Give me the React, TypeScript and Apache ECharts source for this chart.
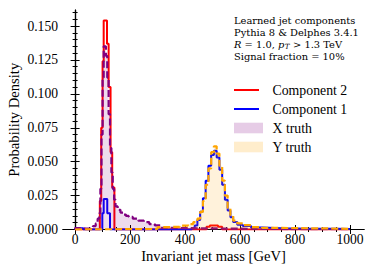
import React, { useEffect, useRef } from "react";
import * as echarts from "echarts";

// Histogram bins: [bin start mass (GeV), probability density]; last bin ends at massEnd
const massEnd = 1000;

const component2: [number, number][] = [
  [0, 0], [90, 0.021], [95, 0.075], [100, 0.124], [104, 0.154], [116, 0.137],
  [122, 0.105], [129, 0.057], [135, 0.031], [143, 0], [478, 0.002], [490, 0.003],
  [520, 0.002], [535, 0],
];

const component1: [number, number][] = [
  [0, 0.001], [30, 0], [99, 0.012], [104, 0.0225], [117, 0.012], [127, 0],
  [424, 0.001], [435, 0.003], [445, 0.007], [455, 0.013], [465, 0.023], [475, 0.036],
  [485, 0.047], [495, 0.055], [505, 0.058], [515, 0.053], [525, 0.044], [535, 0.033],
  [545, 0.022], [555, 0.014], [565, 0.009], [575, 0.0055], [590, 0.0035], [610, 0.0025],
  [640, 0.0015], [680, 0.001], [750, 0.0006], [850, 0.0005], [950, 0.0003],
];

const xTruth: [number, number][] = [
  [0, 0.001], [20, 0.0006], [40, 0.0008], [55, 0.0013], [65, 0.0025], [75, 0.0045],
  [82, 0.008], [88, 0.012], [92, 0.03], [96, 0.07], [100, 0.112], [104, 0.135],
  [112, 0.128], [117, 0.112], [122, 0.085], [127, 0.06], [132, 0.042], [137, 0.03],
  [142, 0.022], [147, 0.017], [155, 0.0145], [165, 0.0125], [175, 0.011], [185, 0.01],
  [195, 0.0093], [210, 0.008], [230, 0.0065], [250, 0.0054], [270, 0.004], [290, 0.003],
  [310, 0.0012], [350, 0.0009], [450, 0.0006], [600, 0.0003], [800, 0.0002],
];

const yTruth: [number, number][] = [
  [0, 0.0004], [300, 0.0018], [340, 0.002], [380, 0.0028], [410, 0.004], [430, 0.0055],
  [445, 0.008], [455, 0.013], [465, 0.021], [475, 0.033], [485, 0.045], [495, 0.057],
  [505, 0.0613], [515, 0.056], [525, 0.047], [535, 0.036], [545, 0.025], [555, 0.016],
  [565, 0.0105], [575, 0.0065], [590, 0.0045], [610, 0.0032], [640, 0.0018], [680, 0.0012],
  [750, 0.0009], [850, 0.0007], [950, 0.0005],
];

const xMajorTicks = [0, 200, 400, 600, 800, 1000];
const xMinorTicks = [0, 50, 100, 150, 200, 250, 300, 350, 400, 450, 500, 550, 600, 650, 700, 750, 800, 850, 900, 950, 1000];
const yMajorTicks = [0, 0.025, 0.05, 0.075, 0.1, 0.125, 0.15];
const yMinorTicks = [
  0, 0.005, 0.01, 0.015, 0.02, 0.025, 0.03, 0.035, 0.04, 0.045, 0.05, 0.055, 0.06, 0.065,
  0.07, 0.075, 0.08, 0.085, 0.09, 0.095, 0.1, 0.105, 0.11, 0.115, 0.12, 0.125, 0.13, 0.135,
  0.14, 0.145, 0.15, 0.155, 0.16,
];

const infoLine1 = "Learned jet components";
const infoLine2 = "Pythia 8 & Delphes 3.4.1";
const infoLine3a = "{i|R} = 1.0, {i|p}";
const infoLine3sub = "T";
const infoLine3b = " > 1.3 TeV";
const infoLine4 = "Signal fraction = 10%";

const FONT = "Liberation Serif";
const INFO_FONT = "DejaVu Serif";

function toSteps(bins: [number, number][], end: number): [number, number][] {
  const pts: [number, number][] = [[bins[0][0], 0]];
  bins.forEach(([m, v]) => pts.push([m, v]));
  pts.push([end, bins[bins.length - 1][1]]);
  pts.push([end, 0]);
  return pts;
}

const X_MIN = -44;
const X_MAX = 1051;
const Y_MIN = 0;
const Y_MAX = 0.1618;

export default function App() {
  const ref = useRef<HTMLDivElement>(null);
  useEffect(() => {
    document.body.style.margin = "0";
    const chart = echarts.init(ref.current!, undefined, { renderer: "svg" });
    const axisLine = { show: true, lineStyle: { color: "#000", width: 1.2 } };
    const mkX = (pos: "bottom" | "top", ticks: number[], len: number, labels: boolean, name?: string) => ({
      type: "value",
      position: pos,
      min: X_MIN,
      max: X_MAX,
      axisLine: { ...axisLine, show: len > 3 },
      splitLine: { show: false },
      axisTick: { show: true, inside: true, length: len, customValues: ticks, lineStyle: { color: "#000", width: 1 } },
      axisLabel: labels
        ? {
            show: true,
            customValues: xMajorTicks,
            color: "#000",
            fontFamily: FONT,
            fontSize: 13.6,
            margin: 3,
            formatter: (v: number) => String(v),
          }
        : { show: false },
      name: name,
      nameLocation: "middle",
      nameGap: 19,
      nameMoveOverlap: false,
      nameTextStyle: { color: "#000", fontFamily: FONT, fontSize: 14.6 },
    });
    const mkY = (pos: "left" | "right", ticks: number[], len: number, labels: boolean, name?: string) => ({
      type: "value",
      position: pos,
      min: Y_MIN,
      max: Y_MAX,
      axisLine: { ...axisLine, show: len > 3 },
      splitLine: { show: false },
      axisTick: { show: true, inside: true, length: len, customValues: ticks, lineStyle: { color: "#000", width: 1 } },
      axisLabel: labels
        ? {
            show: true,
            customValues: yMajorTicks,
            color: "#000",
            fontFamily: FONT,
            fontSize: 13.6,
            margin: 5,
            formatter: (v: number) => v.toFixed(3),
          }
        : { show: false },
      name: name,
      nameLocation: "middle",
      nameGap: 42,
      nameMoveOverlap: false,
      nameTextStyle: { color: "#000", fontFamily: FONT, fontSize: 14.6 },
    });

    // measure the run before the subscript so the pieces line up
    const FS = 9.9;
    const SUB = 7.2;
    const ctx = document.createElement("canvas").getContext("2d")!;
    ctx.font = `italic ${FS}px "${INFO_FONT}"`;
    const wR = ctx.measureText("R").width;
    const wp = ctx.measureText("p").width;
    ctx.font = `italic ${SUB}px "${INFO_FONT}"`;
    const wT = ctx.measureText(infoLine3sub).width;
    ctx.font = `${FS}px "${INFO_FONT}"`;
    const wMid = ctx.measureText(" = 1.0, ").width;
    const x3sub = 234 + wR + wMid + wp + 0.4;

    const LH = 12;
    const lineStyleBase = { fill: "#000", fontFamily: INFO_FONT, fontSize: FS, lineHeight: LH };
    const info: any[] = [
      { type: "text", x: 234, y: 14.7, style: { ...lineStyleBase, text: infoLine1 } },
      { type: "text", x: 234, y: 26.7, style: { ...lineStyleBase, text: infoLine2 } },
      {
        type: "text",
        x: 234,
        y: 38.0,
        style: {
          ...lineStyleBase,
          text: infoLine3a,
          rich: { i: { fontStyle: "italic", fontFamily: INFO_FONT, fontSize: FS, lineHeight: LH, fill: "#000" } },
        },
      },
      {
        type: "text",
        x: x3sub,
        y: 42.2,
        style: { fill: "#000", fontFamily: INFO_FONT, fontSize: SUB, fontStyle: "italic", lineHeight: 8, text: infoLine3sub },
      },
      { type: "text", x: x3sub + wT + 0.4, y: 38.0, style: { ...lineStyleBase, text: infoLine3b } },
      { type: "text", x: 234, y: 50.7, style: { ...lineStyleBase, text: infoLine4 } },
    ];

    const legendItems = [
      { name: "Component 2", kind: "line", color: "#ff0000", y: 90 },
      { name: "Component 1", kind: "line", color: "#0000ff", y: 109 },
      { name: "X truth", kind: "patch", color: "rgba(128,0,128,0.2)", y: 128 },
      { name: "Y truth", kind: "patch", color: "rgba(255,165,0,0.2)", y: 147 },
    ];
    const legend: any[] = [];
    legendItems.forEach((it) => {
      if (it.kind === "line") {
        legend.push({ type: "line", shape: { x1: 234, y1: it.y, x2: 259, y2: it.y }, style: { stroke: it.color, lineWidth: 2 } });
      } else {
        legend.push({ type: "rect", shape: { x: 234, y: it.y - 5.3, width: 29, height: 10.6 }, style: { fill: it.color } });
      }
      legend.push({
        type: "text",
        x: 272.5,
        y: it.y,
        style: { text: it.name, fill: "#000", fontFamily: FONT, fontSize: 13.8, textVerticalAlign: "middle", verticalAlign: "middle" },
      });
    });

    chart.setOption({
      animation: false,
      backgroundColor: "#fff",
      textStyle: { fontFamily: FONT },
      grid: { left: 63, right: 10, top: 10, bottom: 45.5, containLabel: false, outerBoundsMode: "none" },
      xAxis: [
        mkX("bottom", xMajorTicks, 4.5, true, "Invariant jet mass [GeV]"),
        mkX("bottom", xMinorTicks, 2.5, false),
        mkX("top", xMajorTicks, 4.5, false),
        mkX("top", xMinorTicks, 2.5, false),
      ],
      yAxis: [
        mkY("left", yMajorTicks, 4.5, true, "Probability Density"),
        mkY("left", yMinorTicks, 2.5, false),
        mkY("right", yMajorTicks, 4.5, false),
        mkY("right", yMinorTicks, 2.5, false),
      ],
      series: [
        {
          name: "Component 2",
          type: "line",
          step: "end",
          data: toSteps(component2, massEnd),
          symbol: "none",
          lineStyle: { color: "#ff0000", width: 2 },
          z: 2,
        },
        {
          name: "Component 1",
          type: "line",
          step: "end",
          data: toSteps(component1, massEnd),
          symbol: "none",
          lineStyle: { color: "#0000ff", width: 2 },
          z: 3,
        },
        {
          name: "X truth",
          type: "line",
          step: "end",
          data: toSteps(xTruth, massEnd),
          symbol: "none",
          lineStyle: { color: "#800080", width: 2.2, type: [7, 3] },
          areaStyle: { color: "rgba(128,0,128,0.2)" },
          z: 4,
        },
        {
          name: "Y truth",
          type: "line",
          step: "end",
          data: toSteps(yTruth, massEnd),
          symbol: "none",
          lineStyle: { color: "#ffa500", width: 2.2, type: [7, 3] },
          areaStyle: { color: "rgba(255,165,0,0.2)" },
          z: 5,
        },
      ],
      graphic: [...info, ...legend],
    });
    return () => chart.dispose();
  }, []);
  return <div ref={ref} style={{ position: "fixed", left: 0, top: 0, width: 374, height: 275 }} />;
}
